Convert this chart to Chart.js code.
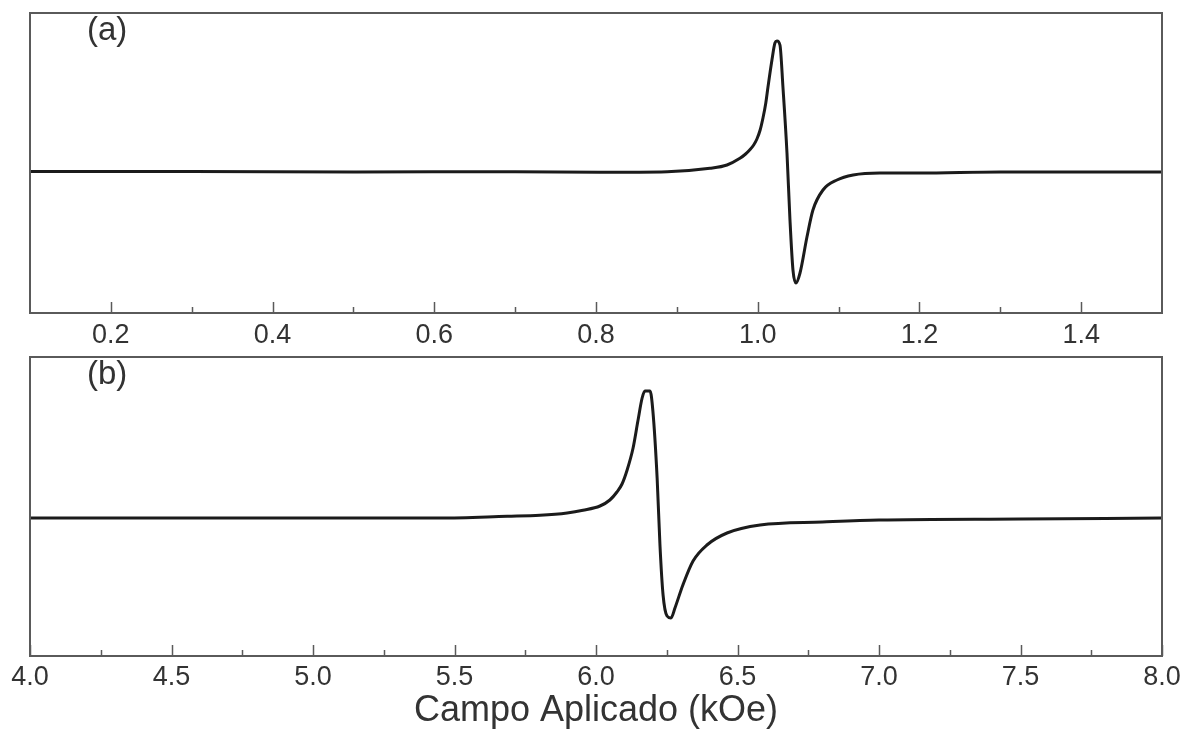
<!DOCTYPE html>
<html>
<head>
<meta charset="utf-8">
<script src="https://cdn.jsdelivr.net/npm/chart.js@4/dist/chart.umd.min.js"></script>
<style>
  html, body { margin:0; padding:0; background:#fff; }
  #wrap { position:relative; width:1188px; height:729px; overflow:hidden; }
  #wrap canvas { position:absolute; left:0; }
</style>
</head>
<body>
<div id="wrap">
  <canvas id="chart-a" width="1188" height="360" style="top:0"></canvas>
  <canvas id="chart-b" width="1188" height="379" style="top:350px"></canvas>
</div>
<script>
/* ===== DATA ===== */
// panel (a): field in kOe, signal in arbitrary units
const A_FIELD = [0.10, 0.30, 0.50, 0.70, 0.805, 0.888, 0.941, 0.962, 0.978, 0.985, 0.990, 0.995, 0.999, 1.003, 1.0065, 1.010,
                 1.0127, 1.0176, 1.0213, 1.0238, 1.0275, 1.0312, 1.0362, 1.0399, 1.0436, 1.0473, 1.0523, 1.0609, 1.0683,
                 1.0807, 1.098, 1.118, 1.151, 1.20, 1.30, 1.50];
const A_SIGNAL = [141.5, 141.5, 141, 141.3, 140.7, 141.3, 144.7, 148, 154.7, 159, 163, 168, 174, 183, 195, 210,
                  226, 253, 270, 272, 268, 226, 160, 93, 43, 30, 40, 76, 103,
                  123, 133, 138, 140, 140, 141, 141];
const A_MAJOR = [0.2, 0.4, 0.6, 0.8, 1.0, 1.2, 1.4];
const A_MINOR = [0.3, 0.5, 0.7, 0.9, 1.1, 1.3];

// panel (b)
const B_FIELD = [4.0, 4.5, 5.0, 5.449, 5.686, 5.802, 5.898, 5.954, 6.014, 6.049, 6.074, 6.092, 6.110, 6.131, 6.148, 6.163, 6.173, 6.191,
                 6.201, 6.216, 6.226, 6.237, 6.251, 6.265, 6.279, 6.307, 6.343, 6.392, 6.463, 6.580, 6.8, 7.0, 7.5, 8.0];
const B_SIGNAL = [138, 138, 138, 138, 139.7, 140.7, 143, 145.7, 150, 156, 164, 172, 186, 208, 235, 258, 265, 265,
                  245, 178, 111, 61, 40, 38, 48, 71, 95, 111, 123, 131, 134, 136, 137, 138];
const B_MAJOR = [4.0, 4.5, 5.0, 5.5, 6.0, 6.5, 7.0, 7.5, 8.0];
const B_MINOR = [4.25, 4.75, 5.25, 5.75, 6.25, 6.75, 7.25, 7.75];

const X_TITLE = 'Campo Aplicado (kOe)';
const FONT = "'Liberation Sans', Arial, sans-serif";
const AXIS_COLOR = '#5a5a5a';
const TEXT_COLOR = '#333';

/* ===== FRAME + INWARD TICKS ===== */
const framePlugin = {
  id: 'frame',
  afterDraw(chart, args, opts) {
    const { ctx, chartArea: a, scales: { x } } = chart;
    ctx.save();
    ctx.strokeStyle = AXIS_COLOR;
    ctx.lineWidth = 1.5;
    const tick = (v, len) => {
      const px = Math.round(x.getPixelForValue(v)) + 0.5;
      ctx.beginPath(); ctx.moveTo(px, a.bottom); ctx.lineTo(px, a.bottom - len); ctx.stroke();
    };
    opts.major.forEach(v => tick(v, 11));
    opts.minor.forEach(v => tick(v, 6));
    ctx.lineWidth = 2;
    ctx.strokeRect(a.left, a.top, a.right - a.left, a.bottom - a.top);
    ctx.fillStyle = TEXT_COLOR;
    ctx.font = '33px ' + FONT;
    ctx.textBaseline = 'top';
    ctx.fillText(opts.label, a.left + 57, a.top + 1);
    ctx.restore();
  }
};

function makeChart(id, field, signal, major, minor, opts) {
  return new Chart(document.getElementById(id), {
    type: 'line',
    data: { datasets: [{
      data: field.map((f, i) => ({ x: f, y: signal[i] })),
      borderColor: '#1b1b1b', borderWidth: 3,
      pointRadius: 0, cubicInterpolationMode: 'monotone', fill: false
    }]},
    options: {
      responsive: false, animation: false,
      layout: { padding: opts.padding },
      plugins: {
        legend: { display: false }, tooltip: { enabled: false },
        frame: { major, minor, label: opts.label }
      },
      scales: {
        x: {
          type: 'linear', min: opts.xmin, max: opts.xmax,
          afterBuildTicks: s => { s.ticks = major.map(v => ({ value: v })); },
          afterFit: s => { s.height = opts.axisH; },
          grid: { display: false, drawTicks: false },
          border: { display: false },
          ticks: {
            padding: opts.tickPad, color: TEXT_COLOR, maxRotation: 0, autoSkip: false,
            font: { family: FONT, size: 27 },
            callback: v => v.toFixed(1)
          },
          title: opts.title ? {
            display: true, text: opts.title, color: TEXT_COLOR,
            font: { family: FONT, size: 36, lineHeight: 1 }, padding: { top: 0, bottom: 0 }
          } : { display: false }
        },
        y: { display: false, min: 0, max: opts.ymax }
      }
    },
    plugins: [framePlugin]
  });
}

/* ===== INIT ===== */
makeChart('chart-a', A_FIELD, A_SIGNAL, A_MAJOR, A_MINOR, {
  xmin: 0.1, xmax: 1.5, ymax: 300, label: '(a)', axisH: 40, tickPad: 6,
  padding: { top: 13, left: 30, right: 26, bottom: 7 }
});
makeChart('chart-b', B_FIELD, B_SIGNAL, B_MAJOR, B_MINOR, {
  xmin: 4.0, xmax: 8.0, ymax: 299, label: '(b)', axisH: 73, tickPad: 5, title: X_TITLE,
  padding: { top: 7, left: 30, right: 26, bottom: 0 }
});
</script>
</body>
</html>
